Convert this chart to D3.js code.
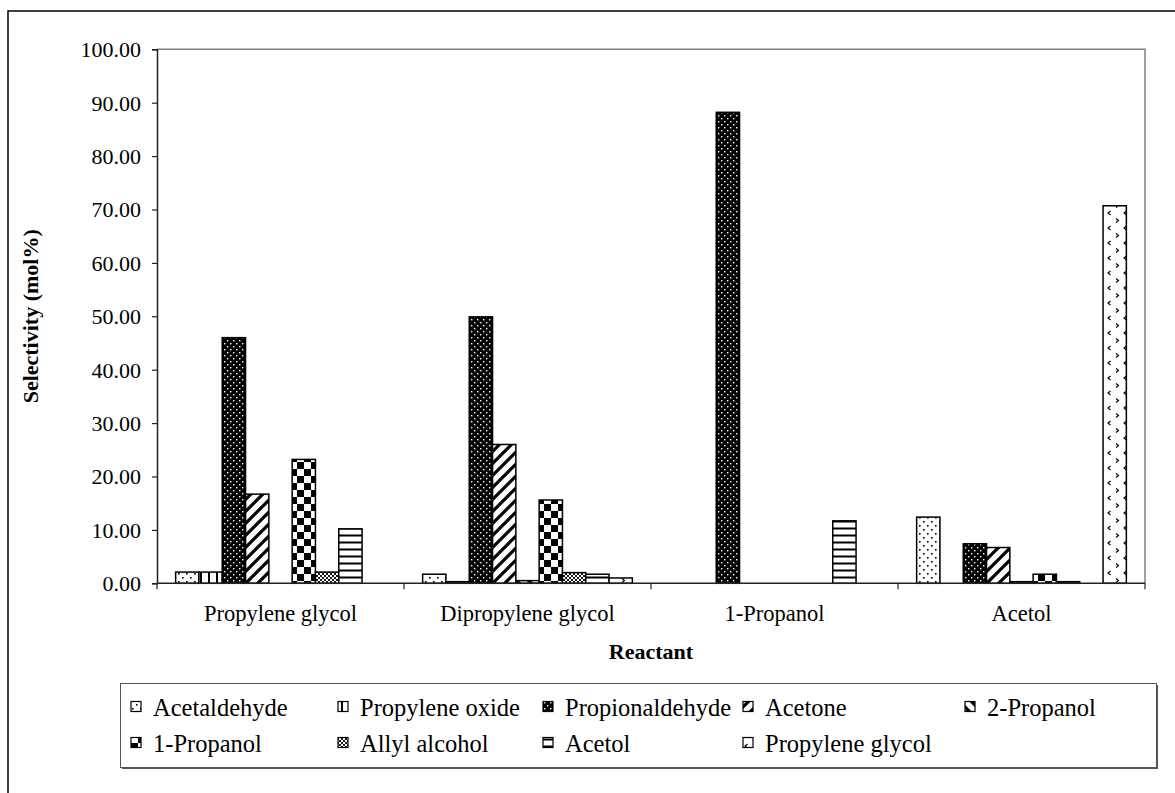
<!DOCTYPE html>
<html>
<head>
<meta charset="utf-8">
<script src="https://cdn.jsdelivr.net/npm/d3@7"></script>
<style>
  html, body { margin: 0; padding: 0; background: #fff; }
  svg { display: block; font-family: "Liberation Serif", "Times New Roman", serif; }
</style>
</head>
<body>
<svg id="chart" width="1175" height="793"></svg>
<script>
// Reactants on the x axis
const categories = ["Propylene glycol", "Dipropylene glycol", "1-Propanol", "Acetol"];

// Product selectivity (mol%) for each reactant, in category order
const acetaldehyde    = [2.1, 1.7, 0, 12.4];
const propyleneOxide  = [2.1, 0.3, 0, 0];
const propionaldehyde = [46.0, 49.9, 88.2, 7.4];
const acetone         = [16.7, 26.0, 0, 6.7];
const propanol2       = [0, 0.5, 0, 0.3];
const propanol1       = [23.2, 15.6, 0, 1.7];
const allylAlcohol    = [2.1, 2.0, 0, 0.3];
const acetol          = [10.2, 1.7, 11.7, 0];
const propyleneGlycol = [0, 1.0, 0, 70.7];

const seriesNames = ["Acetaldehyde", "Propylene oxide", "Propionaldehyde", "Acetone",
  "2-Propanol", "1-Propanol", "Allyl alcohol", "Acetol", "Propylene glycol"];
const seriesValues = [acetaldehyde, propyleneOxide, propionaldehyde, acetone,
  propanol2, propanol1, allylAlcohol, acetol, propyleneGlycol];

const yTicks = [0, 10, 20, 30, 40, 50, 60, 70, 80, 90, 100];

const svg = d3.select("#chart");
const defs = svg.append("defs");

// ---- fill patterns, one per product ----
function pat(id, w, h, bg) {
  const p = defs.append("pattern").attr("id", id).attr("patternUnits", "userSpaceOnUse")
    .attr("width", w).attr("height", h);
  p.append("rect").attr("width", w).attr("height", h).attr("fill", bg);
  return p;
}
// sparse dots
let p = pat("p0", 8, 8, "#fff");
p.append("rect").attr("x", 1).attr("y", 1).attr("width", 1.6).attr("height", 1.6).attr("fill", "#000");
p.append("rect").attr("x", 5).attr("y", 5).attr("width", 1.6).attr("height", 1.6).attr("fill", "#000");
// vertical lines
p = pat("p1", 8, 8, "#fff");
p.append("rect").attr("x", 3).attr("y", 0).attr("width", 2).attr("height", 8).attr("fill", "#000");
// dark with light dots
p = pat("p2", 6, 6, "#000");
p.append("rect").attr("x", 1).attr("y", 1).attr("width", 1.4).attr("height", 1.4).attr("fill", "#fff");
p.append("rect").attr("x", 4).attr("y", 4).attr("width", 1.4).attr("height", 1.4).attr("fill", "#fff");
// wide upward diagonal
p = pat("p3", 12, 12, "#fff");
p.append("path").attr("d", "M-3,15 L15,-3 M-9,9 L9,-9 M3,21 L21,3").attr("stroke", "#000").attr("stroke-width", 3.2);
// wide downward diagonal
p = pat("p4", 12, 12, "#fff");
p.append("path").attr("d", "M-3,-3 L15,15 M-9,3 L9,21 M3,-9 L21,9").attr("stroke", "#000").attr("stroke-width", 3.2);
// large checkerboard
p = pat("p5", 14, 14, "#fff");
p.append("rect").attr("x", 0).attr("y", 0).attr("width", 7).attr("height", 7).attr("fill", "#000");
p.append("rect").attr("x", 7).attr("y", 7).attr("width", 7).attr("height", 7).attr("fill", "#000");
// fine diagonal trellis
p = pat("p6", 4, 4, "#fff");
p.append("path").attr("d", "M0,0 L4,4 M4,0 L0,4").attr("stroke", "#000").attr("stroke-width", 0.9);
// horizontal lines
p = pat("p7", 7, 7, "#fff");
p.append("rect").attr("x", 0).attr("y", 2.5).attr("width", 7).attr("height", 2).attr("fill", "#000");
// chevron marks
p = pat("p8", 16, 15, "#fff");
p.append("path").attr("d", "M4.5,1 L2,3 L4.5,5 M10,8.5 L12.5,10.5 L10,12.5").attr("stroke", "#000")
  .attr("stroke-width", 1.1).attr("fill", "none");

const fills = seriesNames.map((_, i) => `url(#p${i})`);

// ---- layout ----
const plotLeft = 157, plotRight = 1145, plotTop = 49.3, plotBottom = 583.3;

const x0 = d3.scaleBand().domain(categories).range([plotLeft, plotRight]).paddingInner(0).paddingOuter(0);
const x1 = d3.scaleBand().domain(seriesNames).range([0, x0.bandwidth()]).paddingInner(0).paddingOuter(0.8);
const y = d3.scaleLinear().domain([0, 100]).range([plotBottom, plotTop]);

// outer frame
svg.append("rect").attr("x", 8).attr("y", 11).attr("width", 1300).attr("height", 900)
  .attr("fill", "none").attr("stroke", "#000").attr("stroke-width", 1.5);

// plot frame (top and right edges)
svg.append("path").attr("d", `M${plotLeft},${plotTop} H${plotRight} V${plotBottom}`)
  .attr("fill", "none").attr("stroke", "#808080").attr("stroke-width", 1.5);

// bars
const groups = svg.append("g").selectAll("g").data(categories).join("g")
  .attr("transform", d => `translate(${x0(d)},0)`);
groups.selectAll("rect")
  .data((c, ci) => seriesNames.map((s, si) => ({ s, si, v: seriesValues[si][ci] })).filter(d => d.v > 0))
  .join("rect")
  .attr("x", d => x1(d.s))
  .attr("width", x1.bandwidth())
  .attr("y", d => y(d.v))
  .attr("height", d => y(0) - y(d.v))
  .attr("fill", d => fills[d.si])
  .attr("stroke", "#000")
  .attr("stroke-width", 1.5);

// y axis
const yAxis = svg.append("g").attr("transform", `translate(${plotLeft},0)`)
  .call(d3.axisLeft(y).tickValues(yTicks).tickFormat(d3.format(".2f")).tickSize(5).tickPadding(11));
yAxis.select(".domain").attr("stroke", "#222").attr("stroke-width", 1.5);
yAxis.selectAll(".tick line").attr("stroke", "#222").attr("stroke-width", 1.2);
yAxis.selectAll("text").attr("font-size", 22).attr("fill", "#000")
  .attr("font-family", "Liberation Serif").attr("dy", "0.34em");

// x axis: ticks sit on category boundaries
const xAxis = svg.append("g").attr("transform", `translate(0,${plotBottom})`);
xAxis.append("line").attr("x1", plotLeft).attr("x2", plotRight).attr("stroke", "#222").attr("stroke-width", 1.5);
const bounds = categories.map(c => x0(c)).concat([plotRight]);
xAxis.selectAll("line.tk").data(bounds).join("line").attr("class", "tk")
  .attr("x1", d => d).attr("x2", d => d).attr("y1", 0).attr("y2", 6)
  .attr("stroke", "#222").attr("stroke-width", 1.2);
xAxis.selectAll("text").data(categories).join("text")
  .attr("x", d => x0(d) + x0.bandwidth() / 2).attr("y", 38)
  .attr("text-anchor", "middle").attr("font-size", 22.5).text(d => d);

// axis titles
svg.append("text").attr("transform", `translate(38,${(plotTop + plotBottom) / 2}) rotate(-90)`)
  .attr("text-anchor", "middle").attr("font-weight", "bold").attr("font-size", 22)
  .text("Selectivity (mol%)");
svg.append("text").attr("x", (plotLeft + plotRight) / 2).attr("y", 659)
  .attr("text-anchor", "middle").attr("font-weight", "bold").attr("font-size", 22)
  .text("Reactant");

// legend
const legend = svg.append("g");
legend.append("rect").attr("x", 122).attr("y", 685).attr("width", 1036).attr("height", 84)
  .attr("fill", "#555");
legend.append("rect").attr("x", 120.5).attr("y", 683.5).attr("width", 1036).attr("height", 84)
  .attr("fill", "#fff").attr("stroke", "#555").attr("stroke-width", 1);
const colX = [131, 338, 543, 743, 965];
const rowY = [707, 743];
const items = legend.selectAll("g.item").data(seriesNames).join("g").attr("class", "item")
  .attr("transform", (d, i) => `translate(${colX[i % 5]},${rowY[Math.floor(i / 5)]})`);
items.append("rect").attr("x", 0).attr("y", -5.5).attr("width", 10).attr("height", 10)
  .attr("fill", (d, i) => fills[i]).attr("stroke", "#000").attr("stroke-width", 1.2);
items.append("text").attr("x", 22).attr("y", 0).attr("dy", "0.35em")
  .attr("font-size", 24.5).text(d => d);
</script>
</body>
</html>
